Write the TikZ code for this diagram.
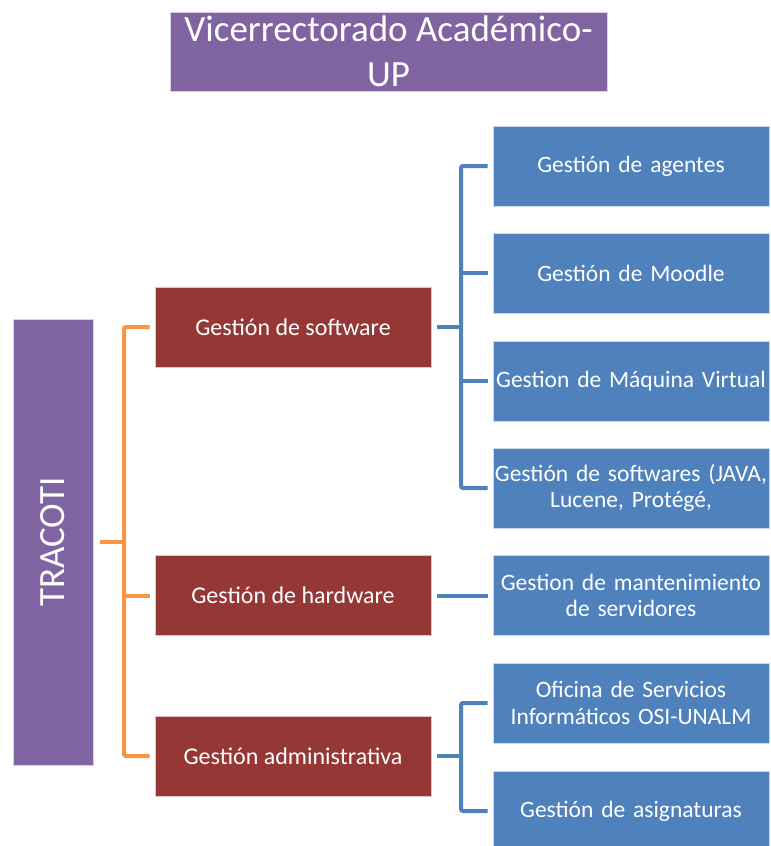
\documentclass[tikz,border=0pt]{standalone}
\usepackage{fontspec}
\setmainfont{Carlito}
\definecolor{upurple}{HTML}{8064A2}
\definecolor{ured}{HTML}{953735}
\definecolor{ublue}{HTML}{4F81BD}
\definecolor{uorange}{HTML}{F79646}
\begin{document}
\begin{tikzpicture}[x=1pt,y=-1pt,
  box/.style={draw=white!70!#1, line width=0.8pt, fill=#1, text=white, inner sep=0pt, align=center, font=\fontsize{23.5}{26.5}\selectfont},
  redbox/.style={box=ured, minimum width=276pt, minimum height=80pt, font=\fontsize{24}{27}\selectfont},
  bluebox/.style={box=ublue, minimum width=276pt, minimum height=80pt, text width=276pt},
  oline/.style={draw=uorange, line width=4pt},
  bline/.style={draw=ublue, line width=4pt}]
\useasboundingbox (0,0) rectangle (771,846);
\begin{scope}
\clip (0,0) rectangle (771,846);
\node[box=upurple, minimum width=437pt, minimum height=79pt, font=\fontsize{37}{45}\selectfont] (vr) at (388.5,51.5) {Vicerrectorado Académico-\\UP};
\node[box=upurple, minimum width=80pt, minimum height=446pt] (tra) at (53,542) {};
\node[text=white, rotate=90, font=\fontsize{37}{45}\selectfont] (tratext) at (tra.center) {TRACOTI};
\node[redbox] (sw) at (293,327) {Gestión de software};
\node[redbox] (hw) at (293,595.5) {Gestión de hardware};
\node[redbox] (adm) at (293,756) {Gestión administrativa};
\node[bluebox] (c1) at (631,166) {Gestión de agentes};
\node[bluebox] (c2) at (631,273) {Gestión de Moodle};
\node[bluebox] (c3) at (631,381) {Gestion de Máquina Virtual};
\node[bluebox] (c4) at (631,488) {Gestión de softwares (JAVA,\\Lucene, Protégé,};
\node[bluebox] (h1) at (631,595.5) {Gestion de mantenimiento\\de servidores};
\node[bluebox] (a1) at (631,703) {Oficina de Servicios\\Informáticos OSI-UNALM};
\node[bluebox] (a2) at (631,811) {Gestión de asignaturas};
\end{scope}
% orange bracket
\coordinate (ob) at (124,542);
\draw[oline] ([xshift=7pt]tra.east) -- (ob);
\draw[oline, rounded corners=2pt] ([xshift=-5pt]sw.west) -| (ob) |- ([xshift=-5pt]adm.west);
\draw[oline] (ob) |- ([xshift=-5pt]hw.west);
% blue bracket software
\coordinate (bb) at (461,327);
\draw[bline] ([xshift=6pt]sw.east) -- (bb);
\draw[bline, rounded corners=2pt] ([xshift=-5pt]c1.west) -| (bb) |- ([xshift=-5pt]c4.west);
\draw[bline] (bb) |- ([xshift=-5pt]c2.west);
\draw[bline] (bb) |- ([xshift=-5pt]c3.west);
% hardware
\draw[bline] ([xshift=6pt]hw.east) -- ([xshift=-5pt]h1.west);
% admin bracket
\coordinate (ab) at (461,756);
\draw[bline] ([xshift=6pt]adm.east) -- (ab);
\draw[bline, rounded corners=2pt] ([xshift=-5pt]a1.west) -| (ab) |- ([xshift=-5pt]a2.west);
\end{tikzpicture}
\end{document}
